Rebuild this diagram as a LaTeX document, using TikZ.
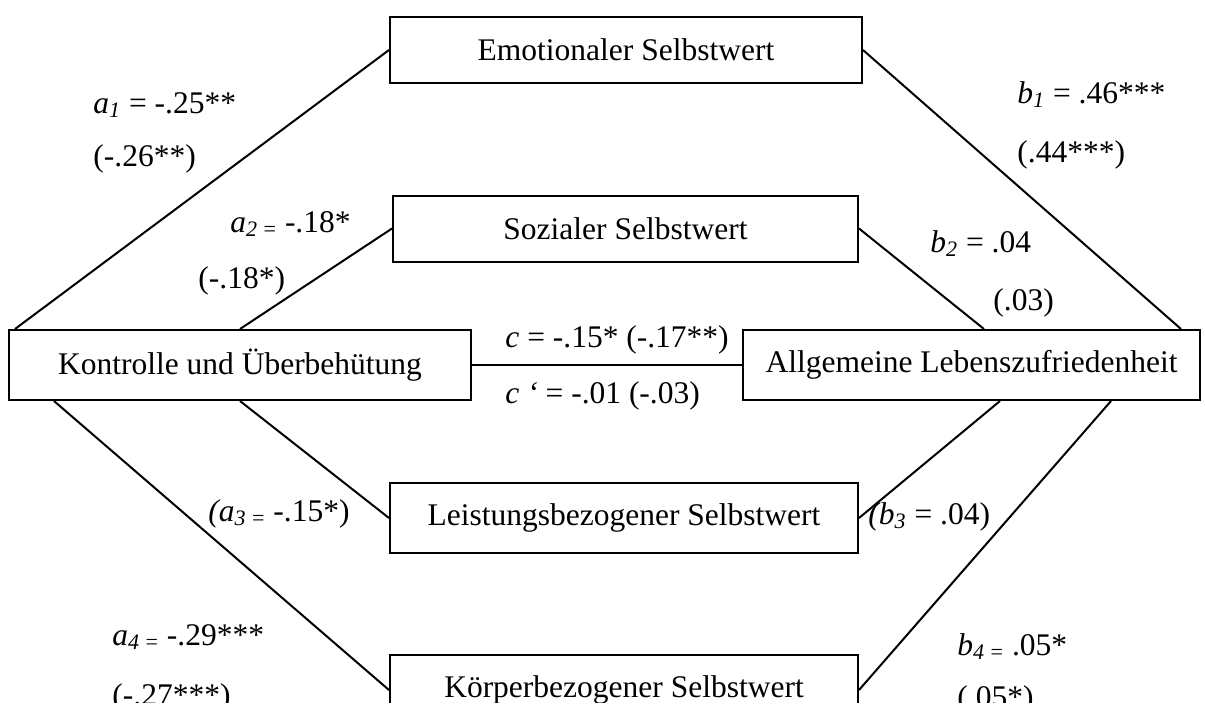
\documentclass[tikz,border=0pt]{standalone}
\usepackage{fontspec}
\setmainfont{Liberation Serif}
\begin{document}
\begin{tikzpicture}[x=0.5pt,y=-0.5pt,
  every node/.style={font=\fontsize{15.75}{19}\selectfont},
  box/.style={draw, line width=1pt, rectangle, inner sep=0pt, minimum height=35pt},
  lbl/.style={anchor=base west, inner sep=0pt},
  conn/.style={line width=1pt}]
\useasboundingbox (0,0) rectangle (1205,713);
\begin{scope}
\clip (0,0) rectangle (1205,702);
% predictor and outcome
\node[box, minimum width=231pt] (kon) at (240,365) {Kontrolle und Überbehütung};
\node[box, minimum width=228.5pt] (all) at (971.5,365) {Allgemeine Lebenszufriedenheit};
% mediators
\node[box, minimum width=236pt, minimum height=33pt] (emo) at (626,50) {Emotionaler Selbstwert};
\node[box, minimum width=232.5pt, minimum height=33pt] (soz) at (625.5,228.5) {Sozialer Selbstwert};
\node[box, minimum width=234pt] (lei) at (624,518) {Leistungsbezogener Selbstwert};
\node[box, minimum width=234pt] (kor) at (624,690) {Körperbezogener Selbstwert};
% paths
\draw[conn] (kon) -- (all);
\draw[conn] ([xshift=3.5pt]kon.north west) -- (emo.west);
\draw[conn] (kon.north) -- (soz.west);
\draw[conn] ([xshift=23pt]kon.south west) -- (kor.west);
\draw[conn] (kon.south) -- (lei.west);
\draw[conn] (emo.east) -- ([xshift=-10pt]all.north east);
\draw[conn] (soz.east) -- ([xshift=121pt]all.north west);
\draw[conn] (lei.east) -- ([xshift=129pt]all.south west);
\draw[conn] (kor.east) -- ([xshift=-45pt]all.south east);
% path coefficients
\node[lbl] (a1) at (93,113) {\textit{a\textsubscript{1}} = -.25**};
\node[lbl] (a1s) at (93,166) {(-.26**)};
\node[lbl] (a2) at (230,232) {\textit{a\textsubscript{2}}\textsubscript{ =} -.18*};
\node[lbl] (a2s) at (198,288) {(-.18*)};
\node[lbl] (c) at (505,347) {\textit{c} = -.15* (-.17**)};
\node[lbl] (cp) at (505,403) {\textit{c ‘} = -.01 (-.03)};
\node[lbl] (a3) at (208,521) {\textit{(a\textsubscript{3}}\textsubscript{ =} -.15*)};
\node[lbl] (b3) at (868,524) {\textit{(b\textsubscript{3}} = .04)};
\node[lbl] (a4) at (112,645) {\textit{a\textsubscript{4}}\textsubscript{ =} -.29***};
\node[lbl] (a4s) at (112,705) {(-.27***)};
\node[lbl] (b4) at (957,655) {\textit{b\textsubscript{4}}\textsubscript{ =} .05*};
\node[lbl] (b4s) at (957,707) {(.05*)};
\node[lbl] (b1) at (1017,103) {\textit{b\textsubscript{1}} = .46***};
\node[lbl] (b1s) at (1017,162) {(.44***)};
\node[lbl] (b2) at (930,252) {\textit{b\textsubscript{2}} = .04};
\node[lbl] (b2s) at (993,310) {(.03)};
\end{scope}
\end{tikzpicture}
\end{document}
